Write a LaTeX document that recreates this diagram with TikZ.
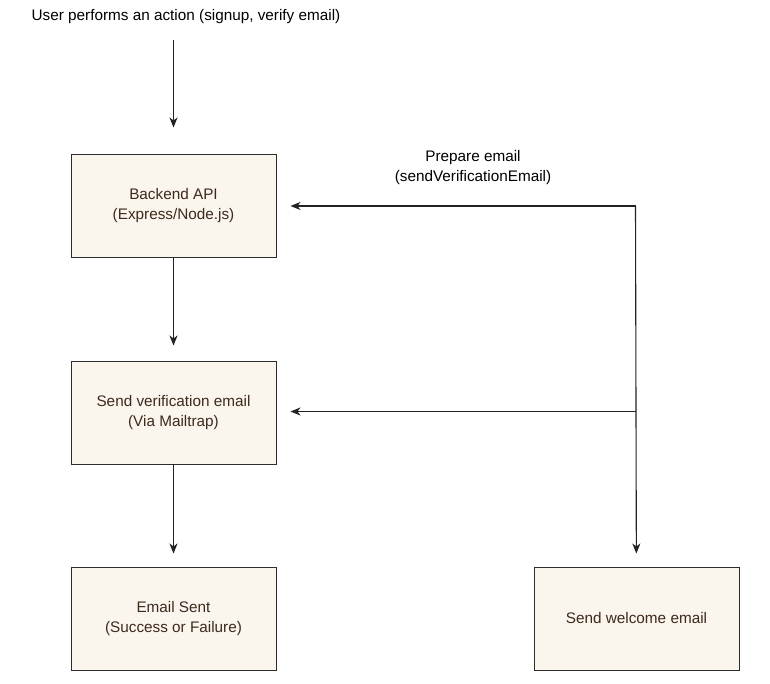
\documentclass[tikz,border=0pt]{standalone}
\usepackage{fontspec}
\setmainfont{Liberation Sans}
\usepackage{tikz}
\usetikzlibrary{arrows.meta, positioning}
\definecolor{boxfill}{RGB}{250,245,237}
\definecolor{boxline}{RGB}{45,45,45}
\definecolor{boxtext}{RGB}{62,42,28}
\definecolor{wireline}{RGB}{35,35,35}
\tikzset{
  stepbox/.style={rectangle, draw=boxline, fill=boxfill,
    minimum width=205pt, minimum height=103pt, align=center,
    text=boxtext, line width=1pt},
  plain/.style={align=center, text=black},
  flow/.style={-{Stealth[length=10pt, width=8pt, inset=3pt]}, line width=1.1pt, color=wireline}
}
\begin{document}
\begin{tikzpicture}[x=1pt, y=1pt, node distance=103pt,
  every node/.style={font=\fontsize{15.3}{19.5}\selectfont}]
  \useasboundingbox[fill=white] (0,0) rectangle (770,-683);

  % Trigger
  \node[plain] (trigger) at (186,-17) {User performs an action (signup, verify email)};
  \coordinate (start) at (173.5,-40);

  % Left column
  \node[stepbox] (api) at (173.5,-205.5) {Backend API\\(Express/Node.js)};
  \node[stepbox, below=of api] (verify) {Send verification email\\(Via Mailtrap)};
  \node[stepbox, below=102pt of verify] (sent) {Email Sent\\(Success or Failure)};

  % Right column
  \node[stepbox, right=257pt of sent] (welcome) {Send welcome email};

  % Bus on the right
  \coordinate (busTop) at (635.5,-206);
  \coordinate (busMid) at (635.5,-411.5);
  \node[plain] (prep) at (473,-167.5) {Prepare email\\(sendVerificationEmail)};

  % Connectors
  \draw[flow, shorten >=26pt] (start) -- (api);
  \draw[flow, shorten >=15pt] (api) -- (verify);
  \draw[flow, shorten >=13pt] (verify) -- (sent);
  \draw[flow, shorten >=14pt] (busTop) -- (api.east |- busTop);
  \draw[flow, shorten >=14pt] (busMid) -- (verify.east |- busMid);
  \draw[flow, shorten >=13pt] (busTop) -- (welcome);
\end{tikzpicture}
\end{document}
